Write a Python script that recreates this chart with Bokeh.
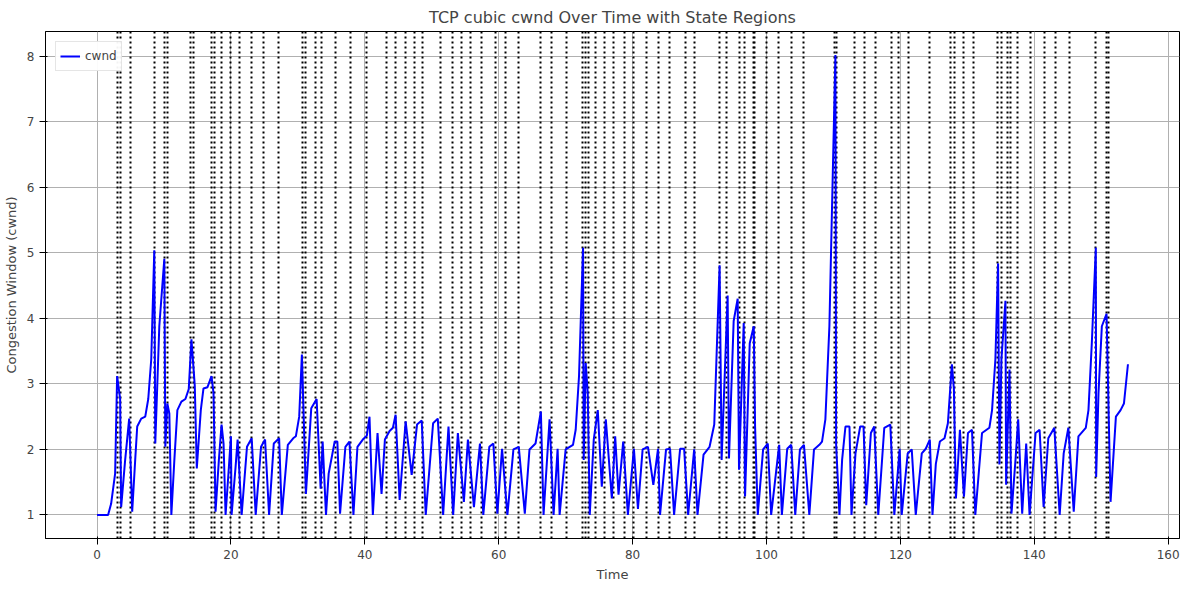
from bokeh.plotting import figure
from bokeh.models import FixedTicker, Range1d
from bokeh.embed import file_html
from bokeh.resources import INLINE

time = [0.0, 1.65, 2.1, 2.7, 3.0, 3.45, 3.6, 4.2, 4.8, 5.25, 5.7, 6.0, 6.6, 7.2, 7.65, 8.1, 8.55, 8.7,
        9.3, 10.05, 10.2, 10.5, 10.8, 11.1, 11.55, 12.0, 12.6, 13.2, 13.7, 14.1, 14.6, 14.9, 15.5, 15.9,
        16.5, 17.1, 17.4, 17.7, 18.2, 18.6, 18.9, 19.2, 19.7, 20.0, 20.1, 20.7, 21.0, 21.6, 22.4, 23.1,
        23.7, 24.5, 25.1, 25.7, 26.4, 27.2, 27.6, 28.5, 29.3, 29.7, 30.2, 30.6, 31.2, 32.0, 32.8, 33.4,
        33.7, 34.2, 34.6, 35.5, 35.9, 36.3, 37.1, 37.7, 38.3, 38.9, 39.7, 40.3, 40.7, 41.2, 41.9, 42.5,
        43.0, 43.7, 44.2, 44.6, 45.2, 46.1, 47.0, 47.8, 48.5, 49.1, 50.2, 50.9, 51.7, 52.5, 53.2, 53.9,
        54.8, 55.4, 56.3, 57.2, 57.7, 58.6, 59.2, 59.8, 60.5, 61.3, 62.2, 63.0, 63.9, 64.6, 65.5, 66.3,
        66.7, 67.6, 68.2, 68.8, 69.1, 70.0, 71.1, 71.5, 72.0, 72.6, 72.7, 73.0, 73.3, 73.6, 74.2, 74.8,
        75.4, 76.0, 76.9, 77.4, 77.9, 78.6, 79.3, 80.2, 80.8, 81.5, 82.3, 83.1, 83.8, 84.1, 85.0, 85.6,
        86.2, 87.1, 87.7, 88.3, 89.2, 89.7, 90.6, 91.5, 92.2, 93.0, 93.3, 94.2, 94.4, 95.1, 95.7, 95.9,
        96.6, 96.8, 97.5, 98.1, 98.3, 98.7, 99.5, 100.2, 100.7, 101.9, 102.3, 103.1, 103.7, 104.3, 105.0,
        105.6, 106.4, 107.1, 107.9, 108.3, 108.8, 109.4, 110.3, 110.4, 110.9, 111.3, 111.8, 112.4, 112.7,
        113.3, 114.0, 114.5, 114.9, 115.6, 116.1, 116.7, 117.6, 118.5, 119.1, 119.9, 120.2, 121.1, 121.7,
        122.3, 123.2, 123.8, 124.4, 124.8, 125.3, 125.9, 126.6, 127.1, 127.7, 128.0, 128.3, 128.9, 129.5,
        130.1, 130.7, 131.2, 132.2, 133.3, 133.7, 134.2, 134.6, 134.8, 135.1, 135.7, 135.8, 136.3, 136.6,
        137.2, 137.6, 138.2, 138.8, 139.3, 140.2, 140.8, 141.4, 142.1, 143.0, 143.8, 144.4, 145.1, 145.9,
        146.6, 147.7, 148.1, 148.6, 149.2, 149.25, 149.6, 150.1, 150.8, 151.4, 152.2, 152.9, 153.4, 154.0]

cwnd = [1.0, 1.0, 1.17, 1.63, 3.12, 2.77, 1.12, 1.84, 2.47, 1.05, 1.84, 2.35, 2.47, 2.5, 2.77, 3.38, 5.04, 2.09,
        3.88, 4.91, 2.04, 2.7, 2.55, 1.0, 1.84, 2.6, 2.73, 2.77, 2.92, 3.68, 2.97, 1.71, 2.6, 2.93,
        2.95, 3.12, 2.86, 1.05, 1.84, 2.38, 2.09, 1.0, 1.74, 2.2, 1.0, 1.74, 2.15, 1.0, 2.04, 2.17,
        1.0, 2.04, 2.15, 1.0, 2.09, 2.17, 1.0, 2.07, 2.17, 2.2, 2.5, 3.45, 1.32, 2.63, 2.77, 1.4,
        2.12, 1.0, 1.63, 2.12, 2.12, 1.02, 2.04, 2.12, 1.0, 2.04, 2.15, 2.21, 2.5, 1.0, 2.25, 1.32,
        2.15, 2.28, 2.33, 2.53, 1.23, 2.43, 1.61, 2.38, 2.44, 1.0, 2.4, 2.47, 1.0, 2.35, 1.0, 2.25,
        1.2, 2.15, 1.12, 2.09, 1.0, 2.04, 2.09, 1.02, 2.01, 1.0, 2.0, 2.04, 1.02, 2.0, 2.09, 2.58,
        1.0, 2.46, 1.0, 2.01, 1.0, 2.0, 2.07, 2.3, 3.12, 5.08, 1.84, 3.32, 2.86, 1.0, 2.15, 2.6,
        1.43, 2.46, 1.25, 2.2, 1.31, 2.12, 1.0, 2.01, 1.09, 2.0, 2.04, 1.46, 2.01, 1.0, 2.0, 2.01,
        1.0, 2.01, 2.01, 1.0, 2.0, 1.0, 1.92, 2.04, 2.38, 4.81, 1.84, 4.35, 1.86, 3.96, 4.3, 1.69,
        3.93, 1.28, 3.62, 3.88, 2.35, 1.0, 2.0, 2.09, 1.0, 2.07, 1.0, 2.01, 2.07, 1.0, 2.0,
        2.07, 1.0, 2.0, 2.07, 2.12, 2.46, 3.88, 8.02, 2.09, 1.0, 1.84, 2.35, 2.35, 1.0,
        1.94, 2.35, 2.35, 1.15, 2.25, 2.35, 1.0, 2.33, 2.38, 1.0, 2.01, 1.0, 1.94, 2.0,
        1.0, 1.94, 2.01, 2.15, 1.0, 1.78, 2.12, 2.17, 2.4, 3.3, 2.92, 1.25, 2.3, 1.28,
        2.25, 2.3, 1.0, 2.25, 2.33, 2.6, 3.38, 4.84, 1.77, 3.38, 4.27, 1.46, 3.22, 1.02,
        1.84, 2.46, 1.02, 2.09, 1.0, 2.25, 2.3, 1.12, 2.17, 2.33, 1.0, 1.94, 2.33, 1.05,
        2.2, 2.33, 2.6, 3.62, 5.08, 1.58, 2.86, 3.88, 4.07, 1.2, 2.5, 2.6, 2.7, 3.3]

state_changes = [3.0, 3.46, 4.96, 8.56, 10.07, 10.52, 13.97, 14.42, 17.13, 17.58, 18.63, 19.98, 21.33,
                 23.14, 24.94, 27.04, 30.65, 31.1, 32.6, 33.5, 35.6, 37.86, 40.26, 43.27, 44.62, 46.12,
                 47.48, 48.68, 51.38, 53.04, 54.39, 55.74, 57.39, 59.5, 61.0, 62.95, 66.26, 67.91, 70.16,
                 72.57, 73.02, 73.47, 74.52, 75.87, 77.22, 78.73, 80.08, 82.03, 83.83, 85.49, 87.89,
                 89.24, 93.0, 94.05, 96.0, 96.75, 98.1, 98.26, 100.06, 101.86, 103.67, 105.47, 110.13,
                 110.43, 113.13, 114.63, 116.29, 118.69, 119.74, 121.24, 124.4, 127.55, 128.15, 129.5,
                 131.0, 134.46, 135.06, 135.96, 136.42, 137.47, 139.42, 141.53, 143.18, 145.28, 149.19,
                 150.84, 151.14]

x_ticks = [0, 20, 40, 60, 80, 100, 120, 140, 160]
y_ticks = [1, 2, 3, 4, 5, 6, 7, 8]

p = figure(width=1184, height=584, output_backend="svg", toolbar_location=None, tools="",
           title="TCP cubic cwnd Over Time with State Regions",
           x_range=Range1d(-7.7, 161.7), y_range=Range1d(0.64, 8.38))
p.title.align = "center"
p.title.text_font = "DejaVu Sans"
p.title.text_font_size = "16px"
p.title.text_font_style = "normal"

p.vspan(x=state_changes, line_color="black", line_width=2, line_dash="2 3")
p.line(time, cwnd, line_color="blue", line_width=2, legend_label="cwnd")

p.xaxis.axis_label = "Time"
p.yaxis.axis_label = "Congestion Window (cwnd)"
p.xaxis.ticker = FixedTicker(ticks=x_ticks)
p.yaxis.ticker = FixedTicker(ticks=y_ticks)
for ax in (p.xaxis, p.yaxis):
    ax.axis_label_text_font = "DejaVu Sans"
    ax.axis_label_text_font_style = "normal"
    ax.axis_label_text_font_size = "13px"
    ax.major_label_text_font = "DejaVu Sans"
    ax.major_label_text_font_size = "12px"
    ax.minor_tick_line_color = None
p.grid.grid_line_color = "#b0b0b0"
p.grid.grid_line_alpha = 1.0
p.outline_line_color = "black"
p.legend.location = "top_left"
p.legend.label_text_font = "DejaVu Sans"
p.legend.label_text_font_size = "12px"
p.legend.padding = 4
p.legend.spacing = 0
p.legend.border_line_color = "#cccccc"

open("out.html", "w").write(file_html(p, INLINE))
